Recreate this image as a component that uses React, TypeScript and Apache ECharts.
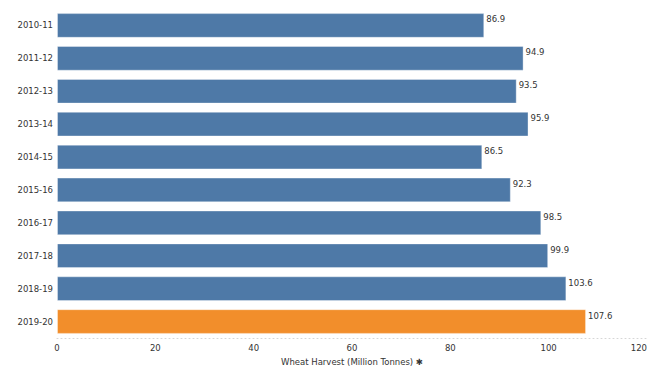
import React, { useEffect, useRef } from "react";
import * as echarts from "echarts";

const seasons = ["2010-11", "2011-12", "2012-13", "2013-14", "2014-15", "2015-16", "2016-17", "2017-18", "2018-19", "2019-20"];
const harvest = [86.9, 94.9, 93.5, 95.9, 86.5, 92.3, 98.5, 99.9, 103.6, 107.6];
const highlightSeason = "2019-20";
const xTicks = [0, 20, 40, 60, 80, 100, 120];

const BLUE = "#4e79a7";
const ORANGE = "#f28e2b";
const FONT = "DejaVu Sans";

export default function App() {
  const ref = useRef<HTMLDivElement>(null);
  useEffect(() => {
    if (!ref.current) return;
    const chart = echarts.init(ref.current, null, { renderer: "svg" });
    chart.setOption({
      animation: false,
      grid: { left: 57, right: -1, top: 9, bottom: 27, containLabel: false },
      xAxis: {
        type: "value",
        min: xTicks[0],
        max: xTicks[xTicks.length - 1],
        interval: 20,
        name: "Wheat Harvest (Million Tonnes) ✱",
        nameLocation: "middle",
        nameGap: 19,
        nameTextStyle: { fontFamily: FONT, fontSize: 8.5, color: "#333" },
        axisLine: { show: true, lineStyle: { color: "#d6d6d6", type: [1, 3], width: 1 } },
        axisTick: { show: false },
        splitLine: { show: false },
        axisLabel: { fontFamily: FONT, fontSize: 8.5, color: "#333", margin: 5, alignMaxLabel: "right" },
      },
      yAxis: {
        type: "category",
        data: seasons,
        inverse: true,
        axisLine: { show: false },
        axisTick: { show: false },
        axisLabel: { fontFamily: FONT, fontSize: 8.5, color: "#333", margin: 4 },
      },
      series: [
        {
          type: "bar",
          data: harvest.map((v, i) => ({
            value: v,
            itemStyle: { color: seasons[i] === highlightSeason ? ORANGE : BLUE },
          })),
          barWidth: "75%",
          itemStyle: { borderColor: "rgba(255,255,255,0.35)", borderWidth: 1 },
          label: {
            show: true,
            position: "right",
            distance: 2,
            offset: [0, -6],
            fontFamily: FONT,
            fontSize: 8.5,
            color: "#333",
          },
        },
      ],
    });
    return () => chart.dispose();
  }, []);
  return <div ref={ref} style={{ width: 650, height: 371, position: "absolute", left: 0, top: 0 }} />;
}
